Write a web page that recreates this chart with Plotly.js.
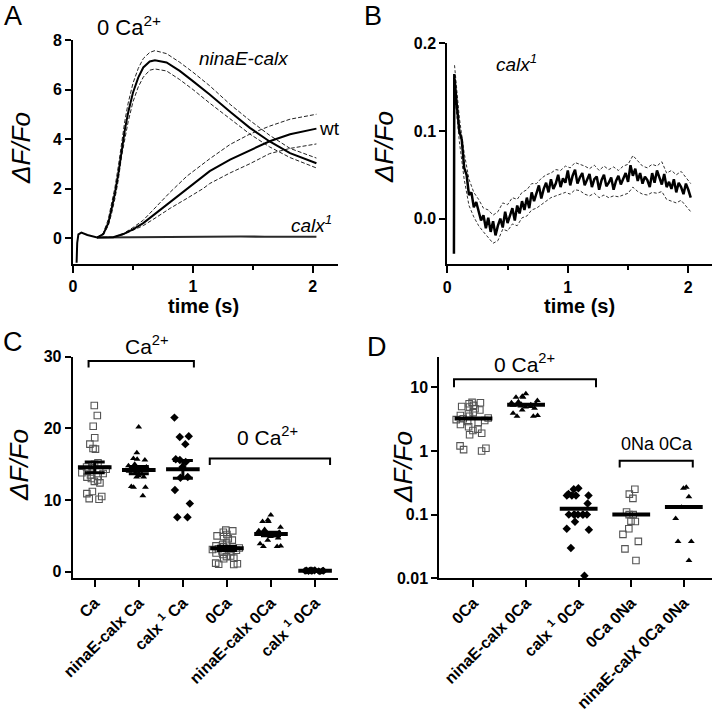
<!DOCTYPE html>
<html><head><meta charset="utf-8">
<script src="https://cdn.plot.ly/plotly-3.0.1.min.js"></script>
<style>html,body{margin:0;padding:0;background:#fff}#chart{width:714px;height:712px}</style>
</head><body><div id="chart"></div>
<script>
// ---------- Panel A data (0 Ca2+) ----------
const tNina = [0.03, 0.035, 0.045, 0.07, 0.12, 0.2, 0.253, 0.294, 0.32, 0.35, 0.378, 0.405, 0.433, 0.46, 0.5, 0.544, 0.586, 0.64, 0.683, 0.78, 0.89, 1.0, 1.14, 1.31, 1.475, 1.64, 1.81, 2.03];
const ninaMean = [-1.0, -0.2, 0.15, 0.22, 0.12, 0.02, 0.16, 0.6, 1.14, 1.82, 2.6, 3.58, 4.39, 5.07, 5.87, 6.48, 6.89, 7.13, 7.18, 7.09, 6.75, 6.34, 5.8, 5.1, 4.45, 3.9, 3.43, 3.02];
const tNinaBand = [0.2, 0.253, 0.294, 0.32, 0.35, 0.378, 0.405, 0.433, 0.46, 0.5, 0.544, 0.586, 0.64, 0.683, 0.78, 0.89, 1.0, 1.14, 1.31, 1.475, 1.64, 1.81, 2.03];
const ninaUp = [0.02, 0.2, 0.75, 1.35, 2.05, 2.9, 3.9, 4.75, 5.45, 6.25, 6.85, 7.25, 7.5, 7.57, 7.45, 7.1, 6.7, 6.15, 5.4, 4.75, 4.15, 3.62, 3.23];
const ninaLo = [0.02, 0.13, 0.5, 0.95, 1.6, 2.35, 3.3, 4.05, 4.7, 5.5, 6.1, 6.5, 6.78, 6.83, 6.75, 6.4, 6.0, 5.45, 4.8, 4.2, 3.68, 3.25, 2.83];
const tWt = [0.2, 0.336, 0.42, 0.5, 0.586, 0.7, 0.81, 0.95, 1.086, 1.14, 1.31, 1.475, 1.64, 1.81, 2.03];
const wtMean = [0.02, 0.03, 0.16, 0.35, 0.6, 1.03, 1.48, 1.98, 2.49, 2.7, 3.17, 3.55, 3.91, 4.19, 4.42];
const wtUp = [0.02, 0.03, 0.18, 0.42, 0.72, 1.3, 1.85, 2.5, 3.0, 3.2, 3.78, 4.2, 4.52, 4.8, 5.0];
const wtLo = [0.02, 0.03, 0.14, 0.3, 0.5, 0.85, 1.2, 1.6, 2.0, 2.2, 2.63, 3.0, 3.41, 3.62, 3.8];
const tCalxA = [0.2, 0.4, 0.6, 0.8, 1.0, 1.2, 1.4, 1.6, 1.8, 2.03];
const calxA = [0.02, 0.03, 0.04, 0.05, 0.05, 0.05, 0.06, 0.05, 0.05, 0.05];

// ---------- Panel B data (calx1) ----------
const tB = [0.055, 0.058,
 0.06, 0.08, 0.10, 0.12, 0.14, 0.16, 0.18, 0.20, 0.22, 0.24,
 0.26, 0.28, 0.30, 0.32, 0.34, 0.36, 0.38, 0.40, 0.42, 0.44,
 0.46, 0.48, 0.50, 0.52, 0.54, 0.56, 0.58, 0.60, 0.62, 0.64,
 0.66, 0.68, 0.70, 0.72, 0.74, 0.76, 0.78, 0.80, 0.82, 0.84,
 0.86, 0.88, 0.90, 0.92, 0.94, 0.96, 0.98, 1.00, 1.02, 1.04,
 1.06, 1.08, 1.10, 1.12, 1.14, 1.16, 1.18, 1.20, 1.22, 1.24,
 1.26, 1.28, 1.30, 1.32, 1.34, 1.36, 1.38, 1.40, 1.42, 1.44,
 1.46, 1.48, 1.50, 1.52, 1.54, 1.56, 1.58, 1.60, 1.62, 1.64,
 1.66, 1.68, 1.70, 1.72, 1.74, 1.76, 1.78, 1.80, 1.82, 1.84,
 1.86, 1.88, 1.90, 1.92, 1.94, 1.96, 1.98, 2.00, 2.02];
const calxB = [-0.040, 0.165,
 0.160, 0.128, 0.100, 0.090, 0.058, 0.050, 0.027, 0.030, 0.013, 0.019,
 0.009, -0.002, 0.004, -0.011, 0.001, -0.015, -0.003, -0.019, -0.008, 0.000,
 -0.010, 0.008, -0.005, 0.004, 0.012, -0.002, 0.015, 0.006, 0.020, 0.010,
 0.024, 0.012, 0.030, 0.020, 0.028, 0.038, 0.023, 0.034, 0.041, 0.030,
 0.045, 0.034, 0.040, 0.050, 0.036, 0.046, 0.041, 0.055, 0.038, 0.049,
 0.056, 0.040, 0.047, 0.052, 0.038, 0.044, 0.051, 0.036, 0.045, 0.048,
 0.033, 0.044, 0.050, 0.037, 0.041, 0.047, 0.033, 0.043, 0.049, 0.039,
 0.045, 0.052, 0.042, 0.061, 0.049, 0.057, 0.043, 0.052, 0.040, 0.048,
 0.044, 0.036, 0.052, 0.041, 0.055, 0.047, 0.039, 0.051, 0.036, 0.042,
 0.034, 0.045, 0.030, 0.041, 0.036, 0.028, 0.040, 0.033, 0.024];
const tB2 = [0.06, 0.10, 0.14, 0.18, 0.22, 0.26, 0.30, 0.34, 0.38, 0.42,
 0.46, 0.50, 0.54, 0.58, 0.62, 0.66, 0.70, 0.74, 0.78, 0.82,
 0.86, 0.90, 0.94, 0.98, 1.02, 1.06, 1.10, 1.14, 1.18, 1.22,
 1.26, 1.30, 1.34, 1.38, 1.42, 1.46, 1.50, 1.54, 1.58, 1.62,
 1.66, 1.70, 1.74, 1.78, 1.82, 1.86, 1.90, 1.94, 1.98, 2.02];
const calxBUp = [0.175, 0.115, 0.075, 0.045, 0.030, 0.022, 0.012, 0.010, 0.004, 0.008,
 0.018, 0.016, 0.024, 0.022, 0.030, 0.033, 0.040, 0.040, 0.046, 0.050,
 0.052, 0.056, 0.055, 0.060, 0.058, 0.064, 0.062, 0.060, 0.057, 0.061,
 0.055, 0.060, 0.056, 0.059, 0.055, 0.060, 0.062, 0.072, 0.066, 0.060,
 0.058, 0.062, 0.060, 0.065, 0.052, 0.055, 0.050, 0.054, 0.047, 0.040];
const calxBLo = [0.145, 0.088, 0.045, 0.015, 0.002, -0.008, -0.015, -0.022, -0.028, -0.025,
 -0.012, -0.014, -0.006, -0.008, 0.001, 0.003, 0.010, 0.012, 0.016, 0.020,
 0.024, 0.026, 0.028, 0.030, 0.028, 0.033, 0.032, 0.028, 0.026, 0.029,
 0.024, 0.027, 0.024, 0.026, 0.025, 0.027, 0.029, 0.036, 0.031, 0.028,
 0.027, 0.030, 0.029, 0.031, 0.022, 0.020, 0.018, 0.021, 0.014, 0.008];

// ---------- Panels C & D data ----------
const catsC = ['Ca', 'ninaE-calx Ca', 'calx1 Ca', '0Ca', 'ninaE-calx 0Ca', 'calx1 0Ca'];
const ticksC = ['Ca', 'ninaE-calx Ca', 'calx <sup>1</sup> Ca', '0Ca', 'ninaE-calx 0Ca', 'calx <sup>1</sup> 0Ca'];
const catsD = ['0Ca', 'ninaE-calx 0Ca', 'calx1 0Ca', '0Ca 0Na', 'ninaE-calX 0Ca 0Na'];
const ticksD = ['0Ca', 'ninaE-calx 0Ca', 'calx <sup>1</sup> 0Ca', '0Ca 0Na', 'ninaE-calX 0Ca 0Na'];

const caWT = [23.2, 21.8, 20.3, 18.7, 17.8, 17.2, 17.1, 15.2, 15.0, 14.8, 14.6, 14.5, 14.3, 14.0, 13.8, 13.7, 13.5, 13.3, 13.2, 13.0, 12.8, 12.6, 12.4, 11.2, 10.9, 10.5, 10.2, 10.1];
const caNina = [20.2, 16.6, 15.8, 15.7, 15.6, 15.0, 14.8, 14.6, 14.4, 14.2, 14.0, 13.8, 13.6, 13.4, 13.2, 13.2, 11.9, 11.8, 11.8, 10.6];
const caCalx = [21.5, 18.9, 18.8, 17.8, 15.7, 15.6, 15.3, 14.6, 13.2, 13.1, 11.4, 9.5, 7.6, 7.6];
const zeroWT = [5.8, 5.7, 5.5, 5.2, 5.0, 4.9, 4.6, 4.4, 4.0, 3.8, 3.6, 3.5, 3.3, 3.2, 3.1, 3.0, 2.9, 2.8, 2.6, 2.4, 2.2, 2.1, 1.9, 1.8, 1.2, 1.1, 1.05, 1.0];
const zeroNina = [7.9, 7.2, 7.0, 7.0, 6.2, 5.9, 5.7, 5.5, 5.4, 5.3, 5.2, 5.1, 5.0, 4.9, 4.7, 4.4, 3.9, 3.6, 3.5, 3.5];
const zeroCalx = [0.26, 0.25, 0.21, 0.2, 0.2, 0.2, 0.2, 0.15, 0.1, 0.1, 0.1, 0.1, 0.1, 0.1, 0.1, 0.077, 0.06, 0.058, 0.03, 0.011];
const zeroNaWT = [0.25, 0.21, 0.18, 0.11, 0.1, 0.1, 0.079, 0.078, 0.06, 0.049, 0.038, 0.029, 0.019];
const zeroNaNina = [0.27, 0.26, 0.19, 0.13, 0.087, 0.038, 0.038, 0.019];

const meansC = [14.56, 14.18, 14.28, 3.26, 5.26, 0.13];
const semC = [0.75, 0.5, 1.25, 0.3, 0.25, 0.02];
const meansD = [3.23, 5.3, 0.124, 0.1, 0.132];

// ---------- build ----------
const W = 714, H = 712;
const FONT = 'Liberation Sans, Arial, sans-serif';
const dx = (a, b) => [a / W, b / W];
const dy = (top, bot) => [1 - bot / H, 1 - top / H];

const traces = [];
function line(x, y, xa, ya, w, dash, color) {
  traces.push({type: 'scatter', mode: 'lines', x, y, xaxis: xa, yaxis: ya,
    line: {color: color || '#000', width: w, dash: dash || 'solid'}, hoverinfo: 'skip'});
}
// Panel A
const DASH = '4px,2px';
line(tNinaBand, ninaUp, 'x', 'y', 1, DASH, '#222');
line(tNinaBand, ninaLo, 'x', 'y', 1, DASH, '#222');
line(tWt, wtUp, 'x', 'y', 1, DASH, '#222');
line(tWt, wtLo, 'x', 'y', 1, DASH, '#222');
line(tCalxA, calxA, 'x', 'y', 2.2, 'solid', '#2a2a2a');
line(tWt, wtMean, 'x', 'y', 2, 'solid', '#000');
line(tNina, ninaMean, 'x', 'y', 2, 'solid', '#000');
// Panel B
line(tB2, calxBUp, 'x2', 'y2', 1, '3px,2px', '#333');
line(tB2, calxBLo, 'x2', 'y2', 1, '3px,2px', '#333');
line(tB, calxB, 'x2', 'y2', 2.5, 'solid', '#000');

// Scatter columns
function col(cat, vals, xa, ya, symbol, size, color, jitter) {
  traces.push({type: 'box', x: vals.map(() => cat), y: vals, xaxis: xa, yaxis: ya,
    boxpoints: 'all', jitter: jitter, pointpos: 0, width: 0.75,
    fillcolor: 'rgba(0,0,0,0)', line: {color: 'rgba(0,0,0,0)', width: 0},
    whiskerwidth: 0,
    marker: {symbol: symbol, size: size, color: color, line: {color: color, width: symbol.indexOf('open') >= 0 ? 1.1 : 0}},
    hoverinfo: 'skip'});
}
const SQ = 'square-open', TR = 'triangle-up', DI = 'diamond';
col(catsC[0], caWT, 'x3', 'y3', SQ, 6.5, '#555', 0.8);
col(catsC[1], caNina, 'x3', 'y3', TR, 6, '#000', 0.8);
col(catsC[2], caCalx, 'x3', 'y3', DI, 6.5, '#000', 0.6);
col(catsC[3], zeroWT, 'x3', 'y3', SQ, 6.5, '#555', 0.9);
col(catsC[4], zeroNina, 'x3', 'y3', TR, 6, '#000', 0.9);
col(catsC[5], zeroCalx, 'x3', 'y3', DI, 5.5, '#000', 0.9);

col(catsD[0], zeroWT, 'x4', 'y4', SQ, 6.5, '#555', 0.9);
col(catsD[1], zeroNina, 'x4', 'y4', TR, 6, '#000', 0.9);
col(catsD[2], zeroCalx, 'x4', 'y4', DI, 6.5, '#000', 0.9);
col(catsD[3], zeroNaWT, 'x4', 'y4', SQ, 6.5, '#555', 0.5);
col(catsD[4], zeroNaNina, 'x4', 'y4', TR, 6, '#000', 0.5);

// means + SEM
traces.push({type: 'scatter', mode: 'markers', x: catsC, y: meansC, xaxis: 'x3', yaxis: 'y3',
  marker: {symbol: 'line-ew', size: 24, line: {color: '#000', width: 4}},
  error_y: {type: 'data', array: semC, visible: true, color: '#000', thickness: 3, width: 10},
  hoverinfo: 'skip'});
traces.push({type: 'scatter', mode: 'markers', x: catsD, y: meansD, xaxis: 'x4', yaxis: 'y4',
  marker: {symbol: 'line-ew', size: 27, line: {color: '#000', width: 4}}, hoverinfo: 'skip'});

const base = {showline: true, linecolor: '#000', linewidth: 2, ticks: 'outside', ticklen: 7,
  tickwidth: 2, tickcolor: '#000', showgrid: false, zeroline: false, automargin: false,
  fixedrange: true, tickfont: {family: FONT, size: 16, color: '#000', weight: 'bold'}};
const minor = {dtick: 0.5, tick0: 0, ticks: 'outside', ticklen: 4, tickwidth: 2, tickcolor: '#000', showgrid: false};
const catFont = {family: FONT, size: 16, color: '#000', weight: 'bold'};

const layout = {
  width: W, height: H, margin: {l: 0, r: 0, t: 0, b: 0},
  paper_bgcolor: '#fff', plot_bgcolor: '#fff', showlegend: false, boxmode: 'overlay',
  font: {family: FONT, color: '#000'},
  xaxis: Object.assign({}, base, {domain: dx(73, 338), range: [0, 2.21], dtick: 1, tick0: 0, anchor: 'y', minor}),
  yaxis: Object.assign({}, base, {domain: dy(40, 263.5), range: [-1.03, 8], dtick: 2, tick0: 0, anchor: 'x', ticklen: 6}),
  xaxis2: Object.assign({}, base, {domain: dx(447.3, 711.7), range: [0, 2.194], dtick: 1, tick0: 0, anchor: 'y2', minor}),
  yaxis2: Object.assign({}, base, {domain: dy(43.3, 264.3), range: [-0.052, 0.2], dtick: 0.1, tick0: 0, tickformat: '.1f', anchor: 'x2', ticklen: 6}),
  xaxis3: Object.assign({}, base, {domain: dx(72.7, 338), type: 'category', range: [-0.5, 5.52],
    categoryorder: 'array', categoryarray: catsC, tickvals: catsC, ticktext: ticksC, tickangle: -45,
    tickfont: catFont, anchor: 'y3'}),
  yaxis3: Object.assign({}, base, {domain: dy(356.7, 578.3), range: [-0.92, 30], dtick: 10, tick0: 0, anchor: 'x3', ticklen: 6}),
  xaxis4: Object.assign({}, base, {domain: dx(439.3, 711.7), type: 'category', range: [-0.65, 4.53],
    categoryorder: 'array', categoryarray: catsD, tickvals: catsD, ticktext: ticksD, tickangle: -45,
    tickfont: catFont, anchor: 'y4'}),
  yaxis4: Object.assign({}, base, {domain: dy(356.7, 578.3), type: 'log', range: [-2, 1.48],
    tickvals: [0.01, 0.1, 1, 10], ticktext: ['0.01', '0.1', '1', '10'], anchor: 'x4', ticklen: 6}),
  shapes: [],
  annotations: []
};

function bracket(xa, ya, x0, x1, yTip, yTop) {
  layout.shapes.push({type: 'path', xref: xa, yref: ya,
    path: `M${x0},${yTip} L${x0},${yTop} L${x1},${yTop} L${x1},${yTip}`,
    line: {color: '#000', width: 2}});
}
bracket('x3', 'y3', -0.14, 2.25, 28.5, 29.4);
bracket('x3', 'y3', 2.61, 5.34, 14.9, 15.8);
bracket('x4', 'y4', -0.37, 2.33, 10, 13.4);
bracket('x4', 'y4', 2.78, 4.17, 0.55, 0.70);

function ann(text, px, py, size, extra) {
  layout.annotations.push(Object.assign({xref: 'paper', yref: 'paper', x: px / W, y: 1 - py / H,
    text, showarrow: false, xanchor: 'center', yanchor: 'middle',
    font: {family: FONT, size, color: '#000'}}, extra || {}));
}
// panel letters
ann('A', 13.5, 16, 27);
ann('B', 373, 16, 27);
ann('C', 13.5, 342, 27);
ann('D', 377, 347, 27);
// axis titles
[[21, 148], [384, 147], [19, 465], [403, 467]].forEach(([a, b]) => {
  ann('ΔF/Fo', a, b, 26, {textangle: -90, font: {family: FONT, size: 26, color: '#000', style: 'italic'}});
});
ann('time (s)', 203, 306, 20, {font: {family: FONT, size: 20, color: '#000', weight: 'bold'}});
ann('time (s)', 579, 306, 20, {font: {family: FONT, size: 20, color: '#000', weight: 'bold'}});
// in-plot labels
ann('0 Ca<sup>2+</sup>', 129, 26, 22);
ann('ninaE-calx', 244, 59, 19, {font: {family: FONT, size: 19, color: '#000', style: 'italic'}});
ann('wt', 329, 128, 19);
ann('calx<sup>1</sup>', 311, 224, 19, {font: {family: FONT, size: 19, color: '#000', style: 'italic'}});
ann('calx<sup>1</sup>', 516, 63, 19, {font: {family: FONT, size: 19, color: '#000', style: 'italic'}});
ann('Ca<sup>2+</sup>', 147, 345, 21);
ann('0 Ca<sup>2+</sup>', 267, 436, 21);
ann('0 Ca<sup>2+</sup>', 524, 363, 21);
ann('0Na 0Ca', 657, 444, 18);

Plotly.newPlot('chart', traces, layout, {displayModeBar: false, staticPlot: true});
</script></body></html>
